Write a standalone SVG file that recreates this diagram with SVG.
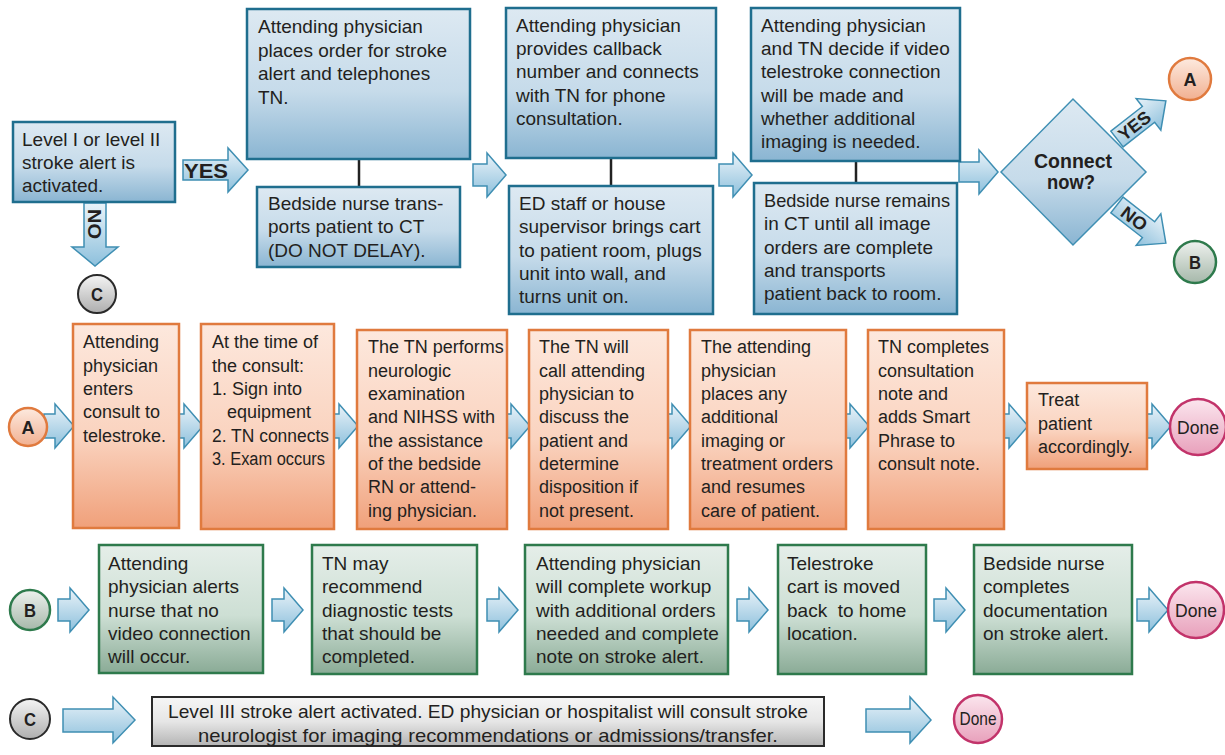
<svg xmlns="http://www.w3.org/2000/svg" width="1225" height="755" viewBox="0 0 1225 755">
<defs>
<linearGradient id="gBlue" x1="0" y1="0" x2="0" y2="1"><stop offset="0" stop-color="#dde9f2"/><stop offset="0.55" stop-color="#c6dbea"/><stop offset="1" stop-color="#8ab5d2"/></linearGradient>
<linearGradient id="gOrange" x1="0" y1="0" x2="0" y2="1"><stop offset="0" stop-color="#fde8dd"/><stop offset="0.55" stop-color="#fad3bf"/><stop offset="1" stop-color="#f0a07a"/></linearGradient>
<linearGradient id="gGreen" x1="0" y1="0" x2="0" y2="1"><stop offset="0" stop-color="#e5eee9"/><stop offset="0.55" stop-color="#cddfd4"/><stop offset="1" stop-color="#8aab96"/></linearGradient>
<linearGradient id="gGray" x1="0" y1="0" x2="0" y2="1"><stop offset="0" stop-color="#f6f6f6"/><stop offset="0.5" stop-color="#e6e6e6"/><stop offset="1" stop-color="#b4b4b4"/></linearGradient>
<linearGradient id="gArrow" x1="0" y1="0" x2="0" y2="1"><stop offset="0" stop-color="#eaf3f9"/><stop offset="1" stop-color="#8dc0dc"/></linearGradient>
<linearGradient id="gCA" x1="0" y1="0" x2="0" y2="1"><stop offset="0" stop-color="#fdeadf"/><stop offset="1" stop-color="#f1b091"/></linearGradient>
<linearGradient id="gCB" x1="0" y1="0" x2="0" y2="1"><stop offset="0" stop-color="#eef1ee"/><stop offset="1" stop-color="#a6b8aa"/></linearGradient>
<linearGradient id="gCC" x1="0" y1="0" x2="0" y2="1"><stop offset="0" stop-color="#f4f4f4"/><stop offset="1" stop-color="#aeaeae"/></linearGradient>
<linearGradient id="gDone" x1="0" y1="0" x2="0" y2="1"><stop offset="0" stop-color="#fbe6ee"/><stop offset="1" stop-color="#e8a0bb"/></linearGradient>
<path id="arT" d="M0,-11 H14 V-22 L33,0 L14,22 V11 H0 Z"/>
<path id="arO" d="M0,-12 H11 V-22 L30,0 L11,22 V12 H0 Z"/>
<path id="arG" d="M0,-11 H12 V-22 L31,0 L12,22 V11 H0 Z"/>
</defs>
<style>
.bb{fill:url(#gBlue);stroke:#1f6e8e;stroke-width:2.5}
.ob{fill:url(#gOrange);stroke:#e07a3e;stroke-width:2.5}
.gb{fill:url(#gGreen);stroke:#2e7a4c;stroke-width:2.5}
.yb{fill:url(#gGray);stroke:#2a2a2a;stroke-width:2}
.ar{fill:url(#gArrow);stroke:#3f8fb3;stroke-width:1.5}
.ln{stroke:#222;stroke-width:2.5}
.t{font-family:"Liberation Sans",Arial,sans-serif;font-size:19px;fill:#231f20}
.to{font-family:"Liberation Sans",Arial,sans-serif;font-size:18px;fill:#231f20}
.bl{font-family:"Liberation Sans",Arial,sans-serif;font-weight:bold;fill:#231f20}
.ca{fill:url(#gCA);stroke:#e07a3e;stroke-width:2.5}
.cb{fill:url(#gCB);stroke:#2e7a4c;stroke-width:2.5}
.cc{fill:url(#gCC);stroke:#2a2a2a;stroke-width:2}
.cd{fill:url(#gDone);stroke:#c2336a;stroke-width:2.5}
</style>
<rect width="1225" height="755" fill="#ffffff"/>

<g id="connectors">
<line class="ln" x1="359" y1="159" x2="359" y2="187"/>
<line class="ln" x1="611" y1="158" x2="611" y2="186"/>
<line class="ln" x1="856" y1="161" x2="856" y2="183"/>
<path class="ar" d="M183,160 H228 V148 L248,170 L228,192 V180 H183 Z"/>
<path class="ar" d="M84,203 H106 V247 H118 L95,266 L72,247 H84 Z"/>
<use href="#arT" class="ar" x="473" y="175"/>
<use href="#arT" class="ar" x="719" y="175"/>
<path class="ar" d="M959,162 H979 V150 L998,172 L979,194 V182 H959 Z"/>
<path class="ar" d="M0,-10 H40 V-20 L62,0 L40,20 V10 H0 Z" transform="translate(1117,139) rotate(-38)"/>
<path class="ar" d="M0,-10 H40 V-20 L62,0 L40,20 V10 H0 Z" transform="translate(1117,205) rotate(38)"/>
<use href="#arO" class="ar" x="44" y="426"/>
<use href="#arO" class="ar" x="173" y="426"/>
<use href="#arO" class="ar" x="328" y="426"/>
<use href="#arO" class="ar" x="500" y="426"/>
<use href="#arO" class="ar" x="661" y="426"/>
<use href="#arO" class="ar" x="839" y="426"/>
<use href="#arO" class="ar" x="998" y="426"/>
<use href="#arO" class="ar" x="1141" y="426"/>
<use href="#arG" class="ar" x="58" y="610"/>
<use href="#arG" class="ar" x="272" y="610"/>
<use href="#arG" class="ar" x="487" y="610"/>
<use href="#arG" class="ar" x="737" y="610"/>
<use href="#arG" class="ar" x="934" y="610"/>
<use href="#arG" class="ar" x="1137" y="610"/>
<path class="ar" d="M63,709 H113 V697 L135,720 L113,743 V732 H63 Z"/>
<path class="ar" d="M866,709 H910 V697 L931,720 L910,743 V732 H866 Z"/>
<text class="bl" x="206" y="178" font-size="20" text-anchor="middle" textLength="44" lengthAdjust="spacingAndGlyphs">YES</text>
<text class="bl" font-size="19" text-anchor="middle" textLength="30" lengthAdjust="spacingAndGlyphs" transform="translate(95,224) rotate(90)" x="0" y="7">NO</text>
<text class="bl" font-size="18" text-anchor="middle" textLength="36" lengthAdjust="spacingAndGlyphs" transform="translate(1117,139) rotate(-38)" x="22" y="6.5">YES</text>
<text class="bl" font-size="18" text-anchor="middle" textLength="28" lengthAdjust="spacingAndGlyphs" transform="translate(1117,205) rotate(38)" x="22" y="6.5">NO</text>
</g>

<g id="n-start">
<rect class="bb" x="13" y="122" width="162" height="80"/>
<text class="t" x="22" y="146">Level I or level II</text>
<text class="t" x="22" y="169">stroke alert is</text>
<text class="t" x="22" y="192">activated.</text>
</g>
<g id="n-c-top">
<circle class="cc" cx="97" cy="294" r="19"/>
<text class="bl" x="97" y="301" font-size="19" text-anchor="middle" textLength="12" lengthAdjust="spacingAndGlyphs">C</text>
</g>
<g id="n-order">
<rect class="bb" x="247" y="9" width="223" height="150"/>
<text class="t" x="258" y="33">Attending physician</text>
<text class="t" x="258" y="57">places order for stroke</text>
<text class="t" x="258" y="80">alert and telephones</text>
<text class="t" x="258" y="104">TN.</text>
</g>
<g id="n-transport">
<rect class="bb" x="257" y="187" width="203" height="80"/>
<text class="t" x="268" y="210">Bedside nurse trans-</text>
<text class="t" x="268" y="233">ports patient to CT</text>
<text class="t" x="268" y="257">(DO NOT DELAY).</text>
</g>
<g id="n-callback">
<rect class="bb" x="506" y="8" width="210" height="150"/>
<text class="t" x="516" y="32">Attending physician</text>
<text class="t" x="516" y="55">provides callback</text>
<text class="t" x="516" y="78">number and connects</text>
<text class="t" x="516" y="102">with TN for phone</text>
<text class="t" x="516" y="125">consultation.</text>
</g>
<g id="n-cart">
<rect class="bb" x="509" y="186" width="204" height="128"/>
<text class="t" x="519" y="210">ED staff or house</text>
<text class="t" x="519" y="233">supervisor brings cart</text>
<text class="t" x="519" y="257">to patient room, plugs</text>
<text class="t" x="519" y="280">unit into wall, and</text>
<text class="t" x="519" y="303">turns unit on.</text>
</g>
<g id="n-decide">
<rect class="bb" x="751" y="8" width="209" height="153"/>
<text class="t" x="761" y="32">Attending physician</text>
<text class="t" x="761" y="55">and TN decide if video</text>
<text class="t" x="761" y="78">telestroke connection</text>
<text class="t" x="761" y="102">will be made and</text>
<text class="t" x="761" y="125">whether additional</text>
<text class="t" x="761" y="148">imaging is needed.</text>
</g>
<g id="n-remains">
<rect class="bb" x="754" y="183" width="203" height="131"/>
<text class="t" x="764" y="207" textLength="186" lengthAdjust="spacingAndGlyphs">Bedside nurse remains</text>
<text class="t" x="764" y="230">in CT until all image</text>
<text class="t" x="764" y="254">orders are complete</text>
<text class="t" x="764" y="277">and transports</text>
<text class="t" x="764" y="300">patient back to room.</text>
</g>
<g id="n-connect">
<polygon points="1001,172 1073,99 1146,172 1073,245" fill="url(#gBlue)" stroke="#3f8fb3" stroke-width="1.5"/>
<text class="bl" x="1073" y="168" font-size="20" text-anchor="middle" textLength="78" lengthAdjust="spacingAndGlyphs">Connect</text>
<text class="bl" x="1071" y="189" font-size="20" text-anchor="middle" textLength="48" lengthAdjust="spacingAndGlyphs">now?</text>
</g>
<g id="n-a-top">
<circle class="ca" cx="1190" cy="79" r="21"/>
<text class="bl" x="1190" y="86" font-size="19" text-anchor="middle" textLength="13" lengthAdjust="spacingAndGlyphs">A</text>
</g>
<g id="n-b-top">
<circle class="cb" cx="1195" cy="262" r="21"/>
<text class="bl" x="1195" y="269" font-size="19" text-anchor="middle" textLength="12" lengthAdjust="spacingAndGlyphs">B</text>
</g>

<g id="n-a-row">
<circle class="ca" cx="28" cy="427" r="19"/>
<text class="bl" x="28" y="434" font-size="19" text-anchor="middle" textLength="13" lengthAdjust="spacingAndGlyphs">A</text>
</g>
<g id="n-a1">
<rect class="ob" x="73" y="324" width="106" height="204"/>
<text class="to" x="83" y="348">Attending</text>
<text class="to" x="83" y="372">physician</text>
<text class="to" x="83" y="395">enters</text>
<text class="to" x="83" y="418">consult to</text>
<text class="to" x="83" y="442">telestroke.</text>
</g>
<g id="n-a2">
<rect class="ob" x="201" y="324" width="133" height="205"/>
<text class="to" x="212" y="348">At the time of</text>
<text class="to" x="212" y="372">the consult:</text>
<text class="to" x="212" y="395">1. Sign into</text>
<text class="to" x="227" y="418">equipment</text>
<text class="to" x="212" y="442" textLength="117" lengthAdjust="spacingAndGlyphs">2. TN connects</text>
<text class="to" x="212" y="465" textLength="113" lengthAdjust="spacingAndGlyphs">3. Exam occurs</text>
</g>
<g id="n-a3">
<rect class="ob" x="357" y="330" width="150" height="199"/>
<text class="to" x="368" y="353">The TN performs</text>
<text class="to" x="368" y="377">neurologic</text>
<text class="to" x="368" y="400">examination</text>
<text class="to" x="368" y="423">and NIHSS with</text>
<text class="to" x="368" y="447">the assistance</text>
<text class="to" x="368" y="470">of the bedside</text>
<text class="to" x="368" y="493">RN or attend-</text>
<text class="to" x="368" y="517">ing physician.</text>
</g>
<g id="n-a4">
<rect class="ob" x="529" y="330" width="139" height="199"/>
<text class="to" x="539" y="353">The TN will</text>
<text class="to" x="539" y="377">call attending</text>
<text class="to" x="539" y="400">physician to</text>
<text class="to" x="539" y="423">discuss the</text>
<text class="to" x="539" y="447">patient and</text>
<text class="to" x="539" y="470">determine</text>
<text class="to" x="539" y="493">disposition if</text>
<text class="to" x="539" y="517">not present.</text>
</g>
<g id="n-a5">
<rect class="ob" x="690" y="330" width="156" height="199"/>
<text class="to" x="701" y="353">The attending</text>
<text class="to" x="701" y="377">physician</text>
<text class="to" x="701" y="400">places any</text>
<text class="to" x="701" y="423">additional</text>
<text class="to" x="701" y="447">imaging or</text>
<text class="to" x="701" y="470">treatment orders</text>
<text class="to" x="701" y="493">and resumes</text>
<text class="to" x="701" y="517">care of patient.</text>
</g>
<g id="n-a6">
<rect class="ob" x="868" y="330" width="136" height="199"/>
<text class="to" x="878" y="353">TN completes</text>
<text class="to" x="878" y="377">consultation</text>
<text class="to" x="878" y="400">note and</text>
<text class="to" x="878" y="423">adds Smart</text>
<text class="to" x="878" y="447">Phrase to</text>
<text class="to" x="878" y="470">consult note.</text>
</g>
<g id="n-a7">
<rect class="ob" x="1027" y="383" width="120" height="86"/>
<text class="to" x="1038" y="406">Treat</text>
<text class="to" x="1038" y="430">patient</text>
<text class="to" x="1038" y="453">accordingly.</text>
</g>
<g id="n-done-a">
<circle class="cd" cx="1198" cy="427" r="28"/>
<text class="t" x="1198" y="434" text-anchor="middle" textLength="42" lengthAdjust="spacingAndGlyphs">Done</text>
</g>

<g id="n-b-row">
<circle class="cb" cx="30" cy="610" r="20"/>
<text class="bl" x="30" y="617" font-size="19" text-anchor="middle" textLength="12" lengthAdjust="spacingAndGlyphs">B</text>
</g>
<g id="n-b1">
<rect class="gb" x="99" y="545" width="164" height="128"/>
<text class="t" x="108" y="570">Attending</text>
<text class="t" x="108" y="593">physician alerts</text>
<text class="t" x="108" y="617">nurse that no</text>
<text class="t" x="108" y="640">video connection</text>
<text class="t" x="108" y="663">will occur.</text>
</g>
<g id="n-b2">
<rect class="gb" x="312" y="545" width="165" height="129"/>
<text class="t" x="322" y="570">TN may</text>
<text class="t" x="322" y="593">recommend</text>
<text class="t" x="322" y="617">diagnostic tests</text>
<text class="t" x="322" y="640">that should be</text>
<text class="t" x="322" y="663">completed.</text>
</g>
<g id="n-b3">
<rect class="gb" x="525" y="545" width="203" height="129"/>
<text class="t" x="536" y="570">Attending physician</text>
<text class="t" x="536" y="593">will complete workup</text>
<text class="t" x="536" y="617">with additional orders</text>
<text class="t" x="536" y="640">needed and complete</text>
<text class="t" x="536" y="663">note on stroke alert.</text>
</g>
<g id="n-b4">
<rect class="gb" x="778" y="545" width="148" height="129"/>
<text class="t" x="787" y="570">Telestroke</text>
<text class="t" x="787" y="593">cart is moved</text>
<text class="t" x="787" y="617" xml:space="preserve">back  to home</text>
<text class="t" x="787" y="640">location.</text>
</g>
<g id="n-b5">
<rect class="gb" x="974" y="545" width="158" height="129"/>
<text class="t" x="983" y="570">Bedside nurse</text>
<text class="t" x="983" y="593">completes</text>
<text class="t" x="983" y="617">documentation</text>
<text class="t" x="983" y="640">on stroke alert.</text>
</g>
<g id="n-done-b">
<circle class="cd" cx="1196" cy="610" r="28"/>
<text class="t" x="1196" y="617" text-anchor="middle" textLength="42" lengthAdjust="spacingAndGlyphs">Done</text>
</g>

<g id="n-c-row">
<circle class="cc" cx="30" cy="719" r="20"/>
<text class="bl" x="30" y="726" font-size="19" text-anchor="middle" textLength="12" lengthAdjust="spacingAndGlyphs">C</text>
</g>
<g id="n-c1">
<rect class="yb" x="152" y="697" width="672" height="49"/>
<text class="t" x="488" y="718" text-anchor="middle" textLength="640" lengthAdjust="spacingAndGlyphs">Level III stroke alert activated. ED physician or hospitalist will consult stroke</text>
<text class="t" x="488" y="742" text-anchor="middle" textLength="580" lengthAdjust="spacingAndGlyphs">neurologist for imaging recommendations or admissions/transfer.</text>
</g>
<g id="n-done-c">
<ellipse class="cd" cx="978" cy="719" rx="24" ry="24"/>
<text class="t" x="978" y="725" font-size="17" text-anchor="middle" textLength="37" lengthAdjust="spacingAndGlyphs">Done</text>
</g>
</svg>
